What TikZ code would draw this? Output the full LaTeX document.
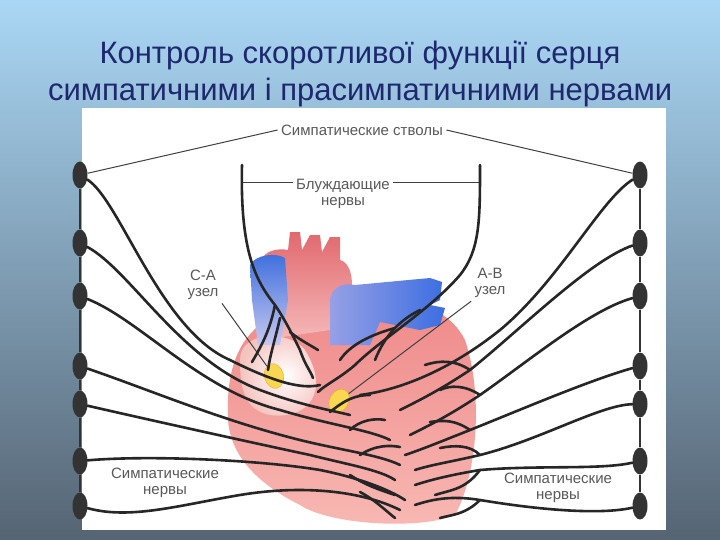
\documentclass[tikz,border=0pt]{standalone}
\usepackage{fontspec}
\setmainfont{Liberation Sans}
\usetikzlibrary{shapes.geometric}
\begin{document}
\begin{tikzpicture}[x=1pt,y=-1pt,
  nerve/.style={line width=2.6pt,black!85,line cap=round},
  thin/.style={line width=1pt,black!75},
  lab/.style={font=\fontsize{15}{16}\selectfont,text=black!65,align=center},
  gang/.style={fill=black!80,ellipse,minimum width=15pt,minimum height=27pt,inner sep=0},
  ttl/.style={font=\fontsize{31}{34}\selectfont,text={rgb,255:red,30;green,40;blue,110}},
  ynode/.style={ellipse,fill={rgb,255:red,250;green,215;blue,80},draw={rgb,255:red,230;green,170;blue,40},minimum width=19pt,minimum height=25pt}]
\useasboundingbox (0,0) rectangle (720,540);
\shade[top color={rgb,255:red,170;green,215;blue,245},bottom color={rgb,255:red,85;green,100;blue,115}] (0,0) rectangle (720,540);
\node[ttl] (t1) at (360,55) {Контроль скоротливої функції серця};
\node[ttl] (t2) at (360,92) {симпатичними і прасимпатичними нервами};
\fill[white] (82,108) rectangle (666,530);
% heart
\shade[top color={rgb,255:red,238;green,135;blue,135},bottom color={rgb,255:red,248;green,185;blue,180}]
 (228,420) .. controls (225,350) and (250,320) .. (300,305) .. controls (360,290) and (440,290) .. (465,340)
 .. controls (485,400) and (475,480) .. (455,515) .. controls (420,530) and (330,525) .. (300,505)
 .. controls (250,480) and (230,450) .. (228,420) -- cycle;
\shade[inner color=white,outer color={rgb,255:red,245;green,195;blue,190}] (240,360) .. controls (240,330) and (290,330) .. (305,350) .. controls (330,390) and (310,420) .. (270,415) .. controls (245,410) and (240,390) .. (240,360) -- cycle;
% aorta
\shade[top color={rgb,255:red,225;green,105;blue,110},bottom color={rgb,255:red,245;green,185;blue,185}]
 (262,340) -- (262,262) .. controls (262,250) and (280,248) .. (288,250) -- (290,232) -- (300,232) -- (302,250) -- (310,235) -- (320,235) -- (322,252) -- (330,237) -- (340,237) -- (340,260) .. controls (350,262) and (355,280) .. (350,300) -- (330,330) -- cycle;
% blue left vessel
\shade[top color={rgb,255:red,60;green,110;blue,220},bottom color={rgb,255:red,200;green,200;blue,240}]
 (250,265) .. controls (255,255) and (275,252) .. (285,258) -- (288,300) -- (280,345) -- (258,345) -- (252,300) -- cycle;
% blue right pulmonary
\shade[left color={rgb,255:red,150;green,160;blue,230},right color={rgb,255:red,60;green,110;blue,225}]
 (330,300) .. controls (332,285) and (345,283) .. (355,285) -- (430,278) -- (442,282) -- (440,300) -- (430,305) -- (445,308) -- (440,325) -- (420,330) -- (380,322) -- (370,345) -- (330,345) -- cycle;
% nodes
\node[ynode,rotate=15] (sa) at (274,376) {};
\node[ynode,rotate=-30] (av) at (339,401) {};
% ganglia chains
\foreach \i/\y in {1/175,2/243,3/296,4/366,5/404,6/461,7/506}{
  \node[gang] (L\i) at (80,\y) {};
  \node[gang] (R\i) at (640,\y) {};}
\foreach \i [evaluate=\i as \j using int(\i+1)] in {1,...,6}{
  \draw[line width=2.6pt,black!80] (L\i) -- (L\j); \draw[line width=2.6pt,black!80] (R\i) -- (R\j);}
% labels
\node[lab] (st) at (362,130) {Симпатические стволы};
\node[lab] (vg) at (343,194) {Блуждающие\\нервы};
\node[lab] (salab) at (203,285) {С-А\\узел};
\node[lab] (avlab) at (490,283) {А-В\\узел};
\node[lab] (sl) at (165,483) {Симпатические\\нервы};
\node[lab] (sr) at (558,488) {Симпатические\\нервы};
\draw[thin] (L1) -- (st.west); \draw[thin] (st.east) -- (R1);
\draw[thin] (salab.south east) -- (sa);
\draw[thin] (avlab.south west) -- (av);
\coordinate (v1) at (242,165); \coordinate (v2) at (480,165);
\draw[thin] (242,183) -- (vg.north west |- 0,183); \draw[thin] (vg.north east |- 0,183) -- (480,183);
% vagus nerves
\draw[nerve] (v1) .. controls (240,250) and (255,280) .. (275,305) .. controls (285,320) and (290,330) .. (300,350) .. controls (305,365) and (310,370) .. (313,378);
\draw[nerve] (275,305) .. controls (270,330) and (262,345) .. (252,362);
\draw[nerve] (280,318) .. controls (275,340) and (270,355) .. (268,370);
\draw[nerve] (290,332) .. controls (300,340) and (310,345) .. (318,350);
\draw[nerve] (v2) .. controls (480,220) and (480,250) .. (460,275) .. controls (430,310) and (380,340) .. (355,365) .. controls (340,378) and (325,385) .. (318,392);
\draw[nerve] (420,310) .. controls (400,320) and (385,335) .. (375,360);
\draw[nerve] (395,328) .. controls (370,335) and (350,345) .. (340,360);
% sympathetic nerves left
\draw[nerve] (L1) .. controls (120,200) and (160,330) .. (230,360) .. controls (270,380) and (300,390) .. (320,385);
\draw[nerve] (L2) .. controls (130,270) and (180,360) .. (260,390) .. controls (300,405) and (330,410) .. (350,415);
\draw[nerve] (L3) .. controls (140,320) and (200,390) .. (280,410) .. controls (330,425) and (370,430) .. (390,440);
\draw[nerve] (L4) .. controls (150,390) and (220,420) .. (300,440) .. controls (340,450) and (380,455) .. (400,465);
\draw[nerve] (L5) .. controls (150,420) and (240,440) .. (310,455) .. controls (350,465) and (380,470) .. (395,480);
\draw[nerve] (L6) .. controls (150,455) and (260,460) .. (320,470) .. controls (360,478) and (390,490) .. (405,500);
\draw[nerve] (L7) .. controls (130,520) and (180,505) .. (240,495) .. controls (300,485) and (360,490) .. (400,510);
\draw[nerve] (330,412) .. controls (345,400) and (355,395) .. (370,395);
\draw[nerve] (350,430) .. controls (360,420) and (375,418) .. (385,420);
\draw[nerve] (360,455) .. controls (375,445) and (390,445) .. (400,447);
\draw[nerve] (350,475) .. controls (365,485) and (380,490) .. (395,495);
\draw[nerve] (360,492) .. controls (375,500) and (385,510) .. (395,518);
% sympathetic nerves right
\draw[nerve] (R1) .. controls (600,200) and (560,280) .. (500,330) .. controls (450,370) and (400,390) .. (360,395);
\draw[nerve] (R2) .. controls (590,260) and (520,330) .. (470,370) .. controls (440,390) and (420,400) .. (400,410);
\draw[nerve] (R3) .. controls (590,310) and (530,360) .. (480,395) .. controls (450,415) and (430,425) .. (410,435);
\draw[nerve] (R4) .. controls (590,380) and (520,410) .. (470,430) .. controls (440,442) and (420,450) .. (405,455);
\draw[nerve] (R5) .. controls (600,405) and (540,440) .. (480,455) .. controls (450,462) and (430,465) .. (415,470);
\draw[nerve] (R6) .. controls (600,470) and (540,465) .. (480,470) .. controls (450,475) and (430,480) .. (415,485);
\draw[nerve] (R7) .. controls (600,515) and (540,510) .. (480,500) .. controls (450,495) and (430,500) .. (415,505);
\draw[nerve] (470,370) .. controls (455,360) and (440,360) .. (425,365);
\draw[nerve] (480,395) .. controls (465,385) and (450,385) .. (440,390);
\draw[nerve] (470,430) .. controls (455,420) and (445,420) .. (430,422);
\draw[nerve] (480,455) .. controls (470,445) and (455,445) .. (440,448);
\draw[nerve] (480,470) .. controls (465,490) and (450,490) .. (435,495);
\draw[nerve] (480,500) .. controls (465,515) and (450,515) .. (440,518);
\end{tikzpicture}
\end{document}
